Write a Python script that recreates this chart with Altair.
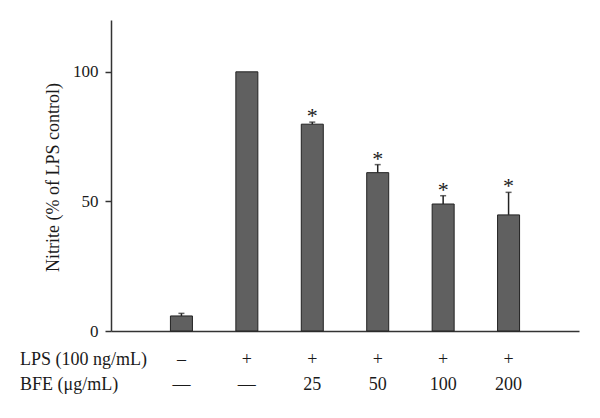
import altair as alt
import pandas as pd

positions = [1, 2, 3, 4, 5, 6]
values = [5.8, 100.0, 79.8, 61.1, 49.0, 44.8]
errors = [1.0, 0.0, 0.8, 3.1, 3.2, 8.7]
stars = ["", "", "*", "*", "*", "*"]
lps_row = ["\u2013", "+", "+", "+", "+", "+"]
bfe_row = ["\u2014", "\u2014", "25", "50", "100", "200"]
row_labels = ["LPS (100 ng/mL)", "BFE (\u03bcg/mL)"]

df = pd.DataFrame({
    "pos": positions,
    "val": values,
    "top": [v + e for v, e in zip(values, errors)],
    "star": stars,
    "lps": lps_row,
    "bfe": bfe_row,
})
err_df = df[df["top"] > df["val"]]
star_df = df[df["star"] != ""]

W, H = 468, 311
FONT = "Liberation Serif"
INK = "#1a1a1a"

xscale = alt.Scale(domain=[0, 7], nice=False, zero=False)
yscale = alt.Scale(domain=[0, 120], nice=False)

xenc = alt.X("pos:Q", scale=xscale,
             axis=alt.Axis(labels=False, ticks=False, grid=False, title=None,
                           domainColor="#333333", domainWidth=1.5))

base = alt.Chart(df)

bars = base.mark_bar(size=22, color="#606060", stroke="#222222", strokeWidth=1).encode(
    x=xenc,
    y=alt.Y("val:Q", scale=yscale,
            axis=alt.Axis(values=[0, 50, 100], grid=False, tickSize=6,
                          tickColor="#333333", domainColor="#333333", domainWidth=1.5,
                          tickWidth=1.5,
                          labelFont=FONT, labelFontSize=17, labelColor=INK, labelPadding=7,
                          title="Nitrite (% of LPS control)", titleFont=FONT,
                          titleFontSize=18, titleFontWeight="normal", titleColor=INK,
                          titleX=-58, titleY=157, titleAngle=-90,
                          titleAlign="center", titleBaseline="middle")),
)

err_rule = alt.Chart(err_df).mark_rule(color="#222222", strokeWidth=1.5).encode(
    x=alt.X("pos:Q", scale=xscale), y=alt.Y("val:Q", scale=yscale), y2="top:Q"
)
err_cap = alt.Chart(err_df).mark_tick(orient="horizontal", size=6, thickness=1.5,
                                      color="#222222").encode(
    x=alt.X("pos:Q", scale=xscale), y=alt.Y("top:Q", scale=yscale)
)

star_text = alt.Chart(star_df).mark_text(font=FONT, fontSize=22, color=INK,
                                         baseline="middle", dy=-6).encode(
    x=alt.X("pos:Q", scale=xscale), y=alt.Y("top:Q", scale=yscale), text="star:N"
)

lps_text = base.mark_text(font=FONT, fontSize=18, color=INK, baseline="middle").encode(
    x=alt.X("pos:Q", scale=xscale), y=alt.value(H + 29), text="lps:N"
)
bfe_text = base.mark_text(font=FONT, fontSize=18, color=INK, baseline="middle").encode(
    x=alt.X("pos:Q", scale=xscale), y=alt.value(H + 54), text="bfe:N"
)

lab_df = pd.DataFrame({"label": row_labels, "yy": [H + 29, H + 54]})
row_text = alt.Chart(lab_df).mark_text(font=FONT, fontSize=18, color=INK,
                                       align="left", baseline="middle").encode(
    x=alt.value(-91), y=alt.Y("yy:Q", scale=None), text="label:N"
)

chart = alt.layer(bars, err_rule, err_cap, star_text, lps_text, bfe_text, row_text).properties(
    width=W, height=H,
    padding={"left": 12, "top": 12, "right": 5, "bottom": 5},
    background="white",
).configure_view(stroke=None)

chart.save("out.html", embed_options={"renderer": "svg", "actions": False})
